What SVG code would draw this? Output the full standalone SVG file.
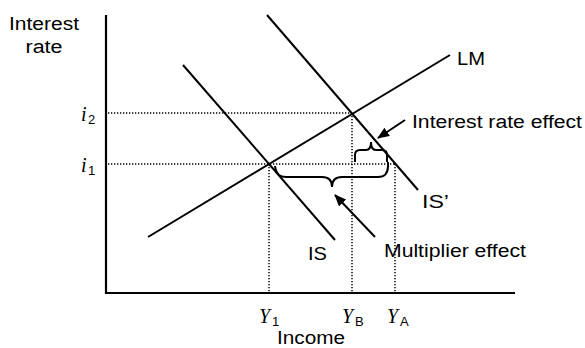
<svg xmlns="http://www.w3.org/2000/svg" width="585" height="348" viewBox="0 0 585 348">
<defs>
<style>
.t{font-family:"Liberation Sans",Arial,sans-serif;font-size:18px;fill:#000}
.v{font-family:"Liberation Serif","Times New Roman",serif;font-style:italic;font-size:20px;fill:#000}
.s{font-family:"Liberation Sans",Arial,sans-serif;font-size:13px;fill:#000}
.ln{stroke:#000;stroke-width:2;fill:none}
.ax{stroke:#000;stroke-width:2.2;fill:none}
.dot{stroke:#000;stroke-width:1.5;stroke-dasharray:1.3 1.7;fill:none}
.br{stroke:#000;stroke-width:2;fill:none}
</style>
<marker id="ah" markerWidth="12" markerHeight="10" refX="11" refY="5" orient="auto" markerUnits="userSpaceOnUse">
<path d="M0,0 L12,5 L0,10 Z" fill="#000"/>
</marker>
</defs>
<g id="axes">
<line class="ax" x1="106" y1="15" x2="106" y2="294"/>
<line class="ax" x1="105" y1="293" x2="515" y2="293"/>
<text class="t" x="44" y="30" text-anchor="middle" textLength="70" lengthAdjust="spacingAndGlyphs">Interest</text>
<text class="t" x="44" y="53" text-anchor="middle" textLength="37" lengthAdjust="spacingAndGlyphs">rate</text>
<text class="t" x="277" y="344" textLength="68" lengthAdjust="spacingAndGlyphs">Income</text>
</g>
<g id="guides">
<line class="dot" x1="108" y1="113" x2="352" y2="113"/>
<line class="dot" x1="108" y1="164" x2="395" y2="164"/>
<line class="dot" x1="269" y1="164" x2="269" y2="292"/>
<line class="dot" x1="352" y1="113" x2="352" y2="292"/>
<line class="dot" x1="395" y1="164" x2="395" y2="292"/>
</g>
<g id="ticks">
<text class="v" x="81" y="121">i</text><text class="s" x="88" y="124">2</text>
<text class="v" x="81" y="172">i</text><text class="s" x="88" y="175">1</text>
<text class="v" x="259" y="323">Y</text><text class="s" x="272" y="326">1</text>
<text class="v" x="342" y="323">Y</text><text class="s" x="355" y="326">B</text>
<text class="v" x="387" y="323">Y</text><text class="s" x="400" y="326">A</text>
</g>
<g id="LM">
<line class="ln" x1="148" y1="237" x2="450" y2="55"/>
<text class="t" x="457" y="65" textLength="28" lengthAdjust="spacingAndGlyphs">LM</text>
</g>
<g id="IS">
<line class="ln" x1="183" y1="65" x2="335" y2="240"/>
<text class="t" x="308" y="260" textLength="19" lengthAdjust="spacingAndGlyphs">IS</text>
</g>
<g id="ISprime">
<line class="ln" x1="267" y1="15" x2="418" y2="190"/>
<text class="t" x="422" y="208" textLength="27" lengthAdjust="spacingAndGlyphs">IS’</text>
</g>
<g id="braces">
<path class="br" d="M355,162 L355,155 Q355,150 360,150 L366,150 Q371,150 371,142 Q371,150 376,150 L382,150 Q387,150 387,155 L387,162"/>
<path class="br" d="M275,166 Q276,177 286,177 L322,177 Q332,177 332,187 Q332,177 342,177 L378,177 Q388,177 388,166 L388,162"/>
</g>
<g id="connectors">
<line class="ln" x1="405" y1="120" x2="378" y2="138" marker-end="url(#ah)"/>
<line class="ln" x1="375" y1="237" x2="335" y2="195" marker-end="url(#ah)"/>
</g>
<g id="labels">
<text class="t" x="412" y="128" textLength="170" lengthAdjust="spacingAndGlyphs">Interest rate effect</text>
<text class="t" x="384" y="257" textLength="142" lengthAdjust="spacingAndGlyphs">Multiplier effect</text>
</g>
</svg>
